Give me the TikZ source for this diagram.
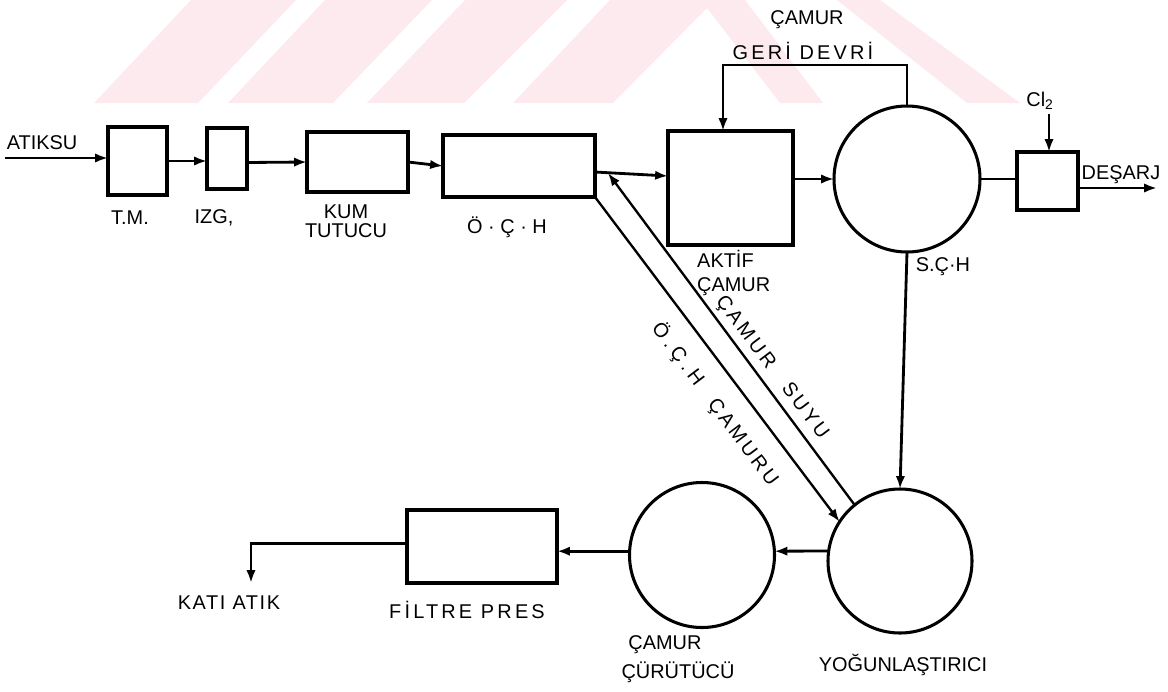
\documentclass[tikz,border=0pt]{standalone}
\usepackage{fontspec}
\setmainfont{Liberation Sans}
\usetikzlibrary{arrows.meta,calc}
\definecolor{wm}{RGB}{252,234,238}
\newcommand{\lblfont}{\fontsize{17}{16}\selectfont}
\begin{document}
\begin{tikzpicture}[x=0.03cm,y=-0.03cm,
  box/.style={draw, line width=3pt, inner sep=0pt, outer sep=0pt},
  tank/.style={draw, circle, line width=2.6pt, inner sep=0pt, outer sep=0pt},
  arr/.style={line width=2.4pt, -{Latex[length=11pt,width=8pt]}},
  ln/.style={line width=2.4pt},
  dgarr/.style={line width=2pt, -{Latex[length=11pt,width=8pt]}},
  lab/.style={font=\lblfont, inner sep=0pt},
  spaced/.style={font={\lblfont\addfontfeature{LetterSpace=16}}, inner sep=0pt},
  rlab/.style={font={\lblfont\addfontfeature{LetterSpace=16}}, inner sep=0pt, rotate=-53}
]
\useasboundingbox (0,0) rectangle (1168,691);
% faint watermark
\fill[wm] (94,103) -- (198,103) -- (296,0) -- (191,0) -- cycle;
\fill[wm] (228,103) -- (333,103) -- (432,0) -- (325,0) -- cycle;
\fill[wm] (367,103) -- (464,103) -- (567,0) -- (465,0) -- cycle;
\fill[wm] (513,103) -- (610,0) -- (745,0) -- (823,103) -- (780,103) -- (707,8) -- (613,103) -- cycle;
\fill[wm] (837,0) -- (880,0) -- (1020,103) -- (967,103) -- cycle;

% process units
\node[box, minimum width=1.77cm, minimum height=2.04cm] (tm) at (137.5,161) {};
\node[box, minimum width=1.2cm, minimum height=1.83cm] (izg) at (227,158.5) {};
\node[box, minimum width=3.03cm, minimum height=1.8cm] (kum) at (357.5,162) {};
\node[box, minimum width=4.56cm, minimum height=1.86cm] (och) at (519,166) {};
\node[box, minimum width=3.75cm, minimum height=3.42cm] (aktif) at (730.5,188) {};
\node[box, minimum width=1.83cm, minimum height=1.74cm] (cl) at (1047.5,181) {};
\node[box, minimum width=4.5cm, minimum height=2.19cm] (filtre) at (482,546.5) {};
\node[tank, minimum size=4.38cm] (sch) at (907,179) {};
\node[tank, minimum size=4.32cm] (yog) at (900,561) {};
\node[tank, minimum size=4.35cm] (cur) at (702,555) {};

% coordinates for free ends
\coordinate (in) at (5,158);
\coordinate (rl) at (723,65);
\coordinate (clin) at (1049,114);
\coordinate (out) at (1157,188);
\coordinate (kt) at (251,583);
\coordinate (bt) at (608,173);

% connectors
\draw[arr] (in) -- (in -| tm.west);
\draw[arr] (tm.east) -- (tm.east -| izg.west);
\draw[arr] ($(izg.east)+(0,4)$) -- (kum.west);
\draw[arr] (kum.east) -- (och.west);
\draw[arr] ($(och.east)+(0,6)$) -- ($(aktif.west)+(0,-12)$);
\draw[arr] (aktif.east |- sch.west) -- (sch.west);
\draw[arr] (sch.north) |- (rl) -- (rl |- aktif.north);
\draw[ln] (sch.east) -- (sch.east -| cl.west);
\draw[arr] (clin) -- (clin |- cl.north);
\draw[arr] (cl.east |- out) -- (out);
\draw[arr] (sch.south) -- (yog.north);
\draw[arr] (yog.172) -- (cur.3);
\draw[arr] (cur.177) -- (cur.177 -| filtre.east);
\draw[arr] ($(filtre.west)+(0,-3)$) -| (kt);
\draw[dgarr] (och.south east) -- (yog.147);
\draw[dgarr] (yog.129) -- (bt);

% labels
\node[lab] (l1) at (42,143) {ATIKSU};
\node[lab] (l2) at (130,218) {T.M.};
\node[lab] (l3) at (214,218) {IZG,};
\node[lab, align=center] (l4) at (346,221) {KUM\\TUTUCU};
\node[lab] (l5) at (507,227) {Ö · Ç · H};
\node[lab, align=left, anchor=west, font={\fontsize{17}{21}\selectfont}] (l6) at (697,273) {AKTİF\\ÇAMUR};
\node[lab] (l7) at (807,20) {ÇAMUR};
\node[spaced] (l8) at (803,51) {GERİ DEVRİ};
\node[lab] (l9) at (1040,101) {Cl\textsubscript{2}};
\node[lab] (l10) at (1121,175) {DEŞARJ};
\node[lab] (l11) at (943,267) {S.Ç·H};
\node[rlab] (l12) at (745,333) {ÇAMUR};
\node[rlab] (l13) at (806,410) {SUYU};
\node[rlab, font={\lblfont\addfontfeature{LetterSpace=22}}] (l14) at (678,354) {Ö.Ç.H};
\node[rlab] (l15) at (742,443) {ÇAMURU};
\node[lab] (l16) at (665,645) {ÇAMUR};
\node[lab] (l17) at (678,672) {ÇÜRÜTÜCÜ};
\node[lab] (l18) at (903,665) {YOĞUNLAŞTIRICI};
\node[spaced] (l19) at (467,610) {FİLTRE PRES};
\node[lab, font={\lblfont\addfontfeature{LetterSpace=8}}] (l20) at (229,603) {KATI ATIK};
\end{tikzpicture}
\end{document}
